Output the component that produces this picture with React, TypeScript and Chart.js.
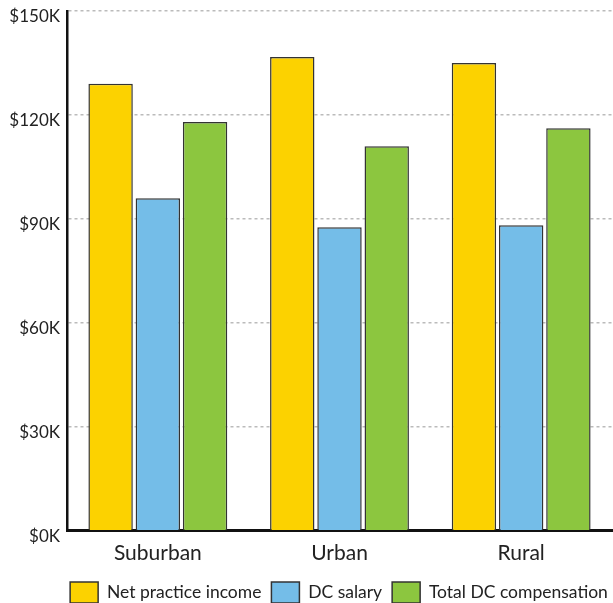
import React, { useEffect, useRef } from "react";
import { Chart, registerables } from "chart.js";

Chart.register(...registerables);

const categories = ["Suburban", "Urban", "Rural"];
const seriesNames = ["Net practice income", "DC salary", "Total DC compensation"];
const netPracticeIncome = [129000, 136700, 135000];
const dcSalary = [96000, 87600, 88200];
const totalDcCompensation = [118000, 111000, 116200];
const yTicks = [0, 30000, 60000, 90000, 120000, 150000];
const colors = ["#FCD200", "#74BDE8", "#8CC63F"];

const FONT = "Lato";

const shiftLegend = {
  id: "shiftLegend",
  afterLayout(chart: any) {
    const lg = chart.legend;
    if (!lg) return;
    const dx = 33;
    const dy = -4;
    lg.left += dx;
    lg.right += dx;
    lg.top += dy;
    lg.bottom += dy;
  },
};

export default function App() {
  const ref = useRef<HTMLCanvasElement | null>(null);
  useEffect(() => {
    const canvas = ref.current;
    if (!canvas) return;
    const values = [netPracticeIncome, dcSalary, totalDcCompensation];
    const chart = new Chart(canvas, {
      type: "bar",
      data: {
        labels: categories,
        datasets: seriesNames.map((name, i) => ({
          label: name,
          data: values[i],
          backgroundColor: colors[i],
          borderColor: "#333333",
          borderWidth: 1.5,
          categoryPercentage: 0.78,
          barPercentage: 0.94,
        })),
      },
      plugins: [shiftLegend],
      options: {
        responsive: false,
        animation: false,
        layout: { padding: { top: 11, right: 1, left: 0, bottom: -14 } },
        plugins: {
          tooltip: { enabled: false },
          legend: {
            position: "bottom",
            labels: {
              boxWidth: 28,
              boxHeight: 21,
              padding: 10,
              color: "#222",
              font: { family: FONT, size: 17.5 },
            },
          },
        },
        scales: {
          x: {
            grid: { display: false, drawTicks: false },
            border: { color: "#111", width: 3 },
            ticks: {
              color: "#222",
              font: { family: FONT, size: 21 },
              padding: 10,
            },
          },
          y: {
            min: 0,
            max: 150000,
            afterBuildTicks: (axis: any) => {
              axis.ticks = yTicks.map((v) => ({ value: v }));
            },
            afterFit: (axis: any) => {
              axis.width = 67;
              axis.paddingTop = 0;
              axis.paddingBottom = 0;
            },
            grid: { color: "#bbbbbb", lineWidth: 1.5, drawTicks: false },
            border: { color: "#111", width: 2.5, dash: [3, 3] },
            ticks: {
              color: "#222",
              font: { family: FONT, size: 17 },
              padding: 7,
              labelOffset: 6,
              callback: (v: any) => "$" + Math.round(Number(v) / 1000) + "K",
            },
          },
        },
      },
    });
    return () => chart.destroy();
  }, []);
  return (
    <div style={{ position: "absolute", left: 0, top: 0, width: 613, height: 603, background: "#fff" }}>
      <canvas ref={ref} width={613} height={603} />
    </div>
  );
}
